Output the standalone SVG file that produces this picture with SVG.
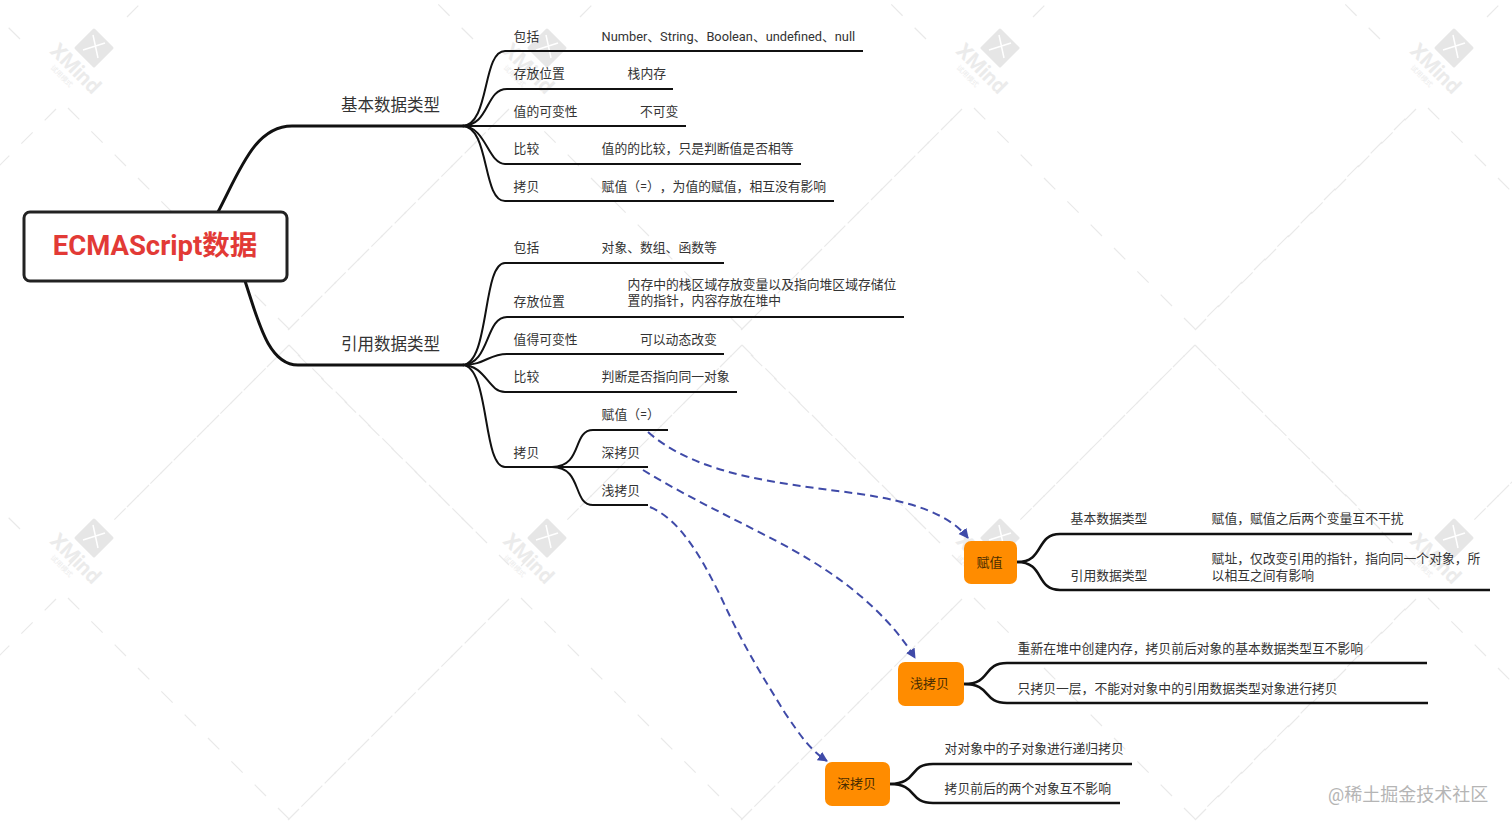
<svg xmlns="http://www.w3.org/2000/svg" xmlns:xlink="http://www.w3.org/1999/xlink" width="1512" height="828" viewBox="0 0 1512 828">
<style>
text{font-family:Roboto,"Noto Sans CJK SC",sans-serif;fill:#333;font-size:12.8px;text-spacing-trim:space-all}
.zig{fill:none;stroke:#e9e9e9;stroke-width:1.2;stroke-dasharray:16 17}
.c1{fill:none;stroke:#111;stroke-width:3}
.c2{fill:none;stroke:#111;stroke-width:2}
.c3{fill:none;stroke:#111;stroke-width:2.6}
.rel{fill:none;stroke:#3f4aa8;stroke-width:2;stroke-dasharray:8 5;marker-end:url(#arr)}
.or{fill:#ff8c00}
.h{font-size:16.5px}
.n{font-size:13px;text-anchor:middle;fill:#4a2c00}
.wm{fill:#ebebeb;font-weight:700}
</style>
<defs>
<marker id="arr" markerUnits="userSpaceOnUse" markerWidth="11" markerHeight="11" refX="9" refY="5" orient="auto"><path d="M0 0L10 5L0 10Z" fill="#3f4aa8"/></marker>
<g id="tile">
<path class="zig" d="M68 108L289 329L509 109"/>
<path class="zig" d="M56 109L-165 330"/>
<path class="zig" d="M20 39L-165 -145"/>
<path class="zig" d="M289 345L68 566"/>
<path class="zig" d="M127 17L289 -145"/>
<path class="zig" d="M289 345L509 565"/>
<path d="M94 30L112 48L94 66L76 48Z" fill="#e6e6e6" stroke="#e6e6e6" stroke-width="3" stroke-linejoin="round"/>
<path d="M93 35L98 58M83 50L105 43" stroke="#fff" stroke-width="1.5" fill="none"/>
<text class="wm" transform="translate(49 52) rotate(45)" style="font-size:21px">XMind</text>
<text transform="translate(50 68) rotate(45)" style="font-size:7px;fill:#ececec">试用模式</text>
</g>
</defs>
<rect width="1512" height="828" fill="#fff"/>
<g id="watermarks">
<use xlink:href="#tile" href="#tile"/><use xlink:href="#tile" href="#tile" x="453"/><use xlink:href="#tile" href="#tile" x="906"/><use xlink:href="#tile" href="#tile" x="1360"/>
<use xlink:href="#tile" href="#tile" y="490"/><use xlink:href="#tile" href="#tile" x="453" y="490"/><use xlink:href="#tile" href="#tile" x="906" y="490"/><use xlink:href="#tile" href="#tile" x="1360" y="490"/>
</g>
<g id="connectors">
<path class="c1" d="M218 212C240 170 255 126 292 126H464"/>
<path class="c1" d="M245 281C258 320 268 365 298 365H464"/>
<path class="c2" d="M462 126C490 126 482 51 505 51H863"/>
<path class="c2" d="M462 126C490 126 485 89 507 89H673"/>
<path class="c2" d="M462 126H686"/>
<path class="c2" d="M462 126C486 126 488 164 505 164H801"/>
<path class="c2" d="M462 126C490 126 482 201 505 201H834"/>
<path class="c2" d="M462 365C490 365 482 263 505 263H724"/>
<path class="c2" d="M462 365C490 365 485 317 507 317H904"/>
<path class="c2" d="M462 365C486 365 488 354 507 354H724"/>
<path class="c2" d="M462 365C486 365 488 392 505 392H737"/>
<path class="c2" d="M462 365C490 365 482 467 505 467H648"/>
<path class="c2" d="M552 467C583 467 572 430 593 430H668"/>
<path class="c2" d="M552 467C583 467 572 505 593 505H648"/>
<path class="c3" d="M1017 562C1045 562 1035 534 1060 534H1412"/>
<path class="c3" d="M1017 562C1045 562 1035 590 1060 590H1490"/>
<path class="c3" d="M964 684C992 684 982 663 1007 663H1427"/>
<path class="c3" d="M964 684C992 684 982 703 1007 703H1428"/>
<path class="c3" d="M890 784C918 784 908 764 933 764H1132"/>
<path class="c3" d="M890 784C918 784 908 803 933 803H1120"/>
<path class="rel" d="M648 432C700 478 790 484 860 494C915 502 950 515 968 538"/>
<path class="rel" d="M643 470C700 505 770 535 810 560C860 590 895 625 915 658"/>
<path class="rel" d="M650 507C680 520 700 555 720 595C745 650 765 680 785 713C800 735 810 750 827 761"/>
</g>
<g id="root"><rect x="24" y="212" width="263" height="69" rx="6" fill="#fff" stroke="#222" stroke-width="3"/><text x="155" y="255" text-anchor="middle" style="font-size:27.5px;font-weight:700;fill:#e23a36">ECMAScript数据</text></g>
<g id="basic"><text class="h" x="341" y="111">基本数据类型</text>
<text x="513.6" y="41">包括</text><text x="601.6" y="41">Number、String、Boolean、undefined、null</text>
<text x="513.6" y="78.4">存放位置</text><text x="627.6" y="78.4">栈内存</text>
<text x="513.6" y="116.4">值的可变性</text><text x="640" y="116.4">不可变</text>
<text x="513.6" y="153.4">比较</text><text x="601.6" y="153.4">值的的比较，只是判断值是否相等</text>
<text x="513.6" y="191.4">拷贝</text><text x="601.6" y="191.4">赋值（=），为值的赋值，相互没有影响</text></g>
<g id="ref"><text class="h" x="341" y="350">引用数据类型</text>
<text x="513.6" y="252.4">包括</text><text x="601.6" y="252.4">对象、数组、函数等</text>
<text x="513.6" y="306.4">存放位置</text><text x="627.6" y="289.4">内存中的栈区域存放变量以及指向堆区域存储位</text><text x="627.6" y="305.4">置的指针，内容存放在堆中</text>
<text x="513.6" y="343.6">值得可变性</text><text x="640" y="343.6">可以动态改变</text>
<text x="513.6" y="381.4">比较</text><text x="601.6" y="381.4">判断是否指向同一对象</text>
<text x="513.6" y="457.4">拷贝</text><text x="601.6" y="419.4">赋值（=）</text><text x="601.6" y="457.4">深拷贝</text><text x="601.6" y="495.4">浅拷贝</text></g>
<g id="node-assign"><rect class="or" x="964" y="541" width="53" height="43" rx="7"/><text class="n" x="989.6" y="566.6">赋值</text>
<text x="1070.6" y="523">基本数据类型</text><text x="1211.6" y="523">赋值，赋值之后两个变量互不干扰</text>
<text x="1070.6" y="579.6">引用数据类型</text><text x="1211.6" y="563.4">赋址，仅改变引用的指针，指向同一个对象，所</text><text x="1211.6" y="579.6">以相互之间有影响</text></g>
<g id="node-shallow"><rect class="or" x="898" y="662" width="66" height="44" rx="7"/><text class="n" x="929.6" y="687.6">浅拷贝</text>
<text x="1017.6" y="652.6">重新在堆中创建内存，拷贝前后对象的基本数据类型互不影响</text><text x="1017.6" y="692.6">只拷贝一层，不能对对象中的引用数据类型对象进行拷贝</text></g>
<g id="node-deep"><rect class="or" x="825" y="762" width="65" height="44" rx="7"/><text class="n" x="856.6" y="788.4">深拷贝</text>
<text x="944.6" y="752.6">对对象中的子对象进行递归拷贝</text><text x="944.6" y="793.4">拷贝前后的两个对象互不影响</text></g>
<text x="1328" y="801" style="font-size:18px;fill:#b5b5b5">@稀土掘金技术社区</text>
</svg>
